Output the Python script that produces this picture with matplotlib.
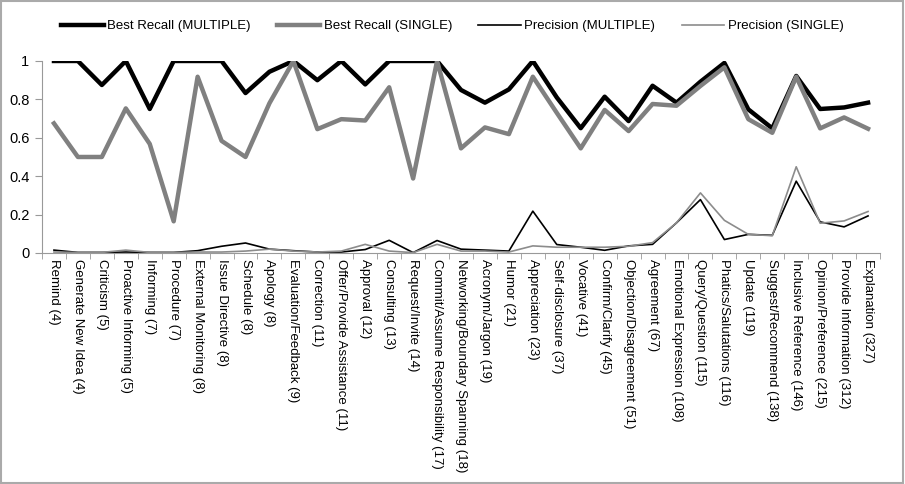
import numpy as np
import matplotlib
matplotlib.use('agg')
import matplotlib.pyplot as plt
from matplotlib.patches import Rectangle

plt.rcParams['font.family'] = ['Liberation Sans', 'DejaVu Sans']

categories = [
    'Remind (4)', 'Generate New Idea (4)', 'Criticism (5)', 'Proactive Informing (5)',
    'Informing (7)', 'Procedure (7)', 'External Monitoring (8)', 'Issue Directive (8)',
    'Schedule (8)', 'Apology (8)', 'Evaluation/Feedback (9)', 'Correction (11)',
    'Offer/Provide Assistance (11)', 'Approval (12)', 'Consulting (13)', 'Request/Invite (14)',
    'Commit/Assume Responsibility (17)', 'Networking/Boundary Spanning (18)',
    'Acronym/Jargon (19)', 'Humor (21)', 'Appreciation (23)', 'Self-disclosure (37)',
    'Vocative (41)', 'Confirm/Clarify (45)', 'Objection/Disagreement (51)', 'Agreement (67)',
    'Emotional Expression (108)', 'Query/Question (115)', 'Phatics/Salutations (116)',
    'Update (119)', 'Suggest/Recommend (138)', 'Inclusive Reference (146)',
    'Opinion/Preference (215)', 'Provide Information (312)', 'Explanation (327)',
]

recall_multiple = [1.0, 1.0, 0.875, 1.0, 0.75, 1.0, 1.0, 1.0, 0.833, 0.944, 1.0, 0.9,
                   1.0, 0.878, 1.0, 1.0, 1.0, 0.849, 0.783, 0.852, 1.0, 0.81, 0.65,
                   0.814, 0.687, 0.871, 0.783, 0.892, 0.99, 0.748, 0.649, 0.922,
                   0.75, 0.758, 0.783]
recall_single = [0.675, 0.5, 0.5, 0.753, 0.568, 0.165, 0.918, 0.584, 0.5, 0.78, 1.0,
                 0.645, 0.697, 0.69, 0.863, 0.388, 1.0, 0.545, 0.654, 0.619, 0.918,
                 0.73, 0.545, 0.745, 0.635, 0.776, 0.767, 0.87, 0.967, 0.697, 0.626,
                 0.918, 0.649, 0.706, 0.647]
precision_multiple = [0.015, 0.003, 0.003, 0.005, 0.003, 0.003, 0.012, 0.035, 0.052,
                      0.02, 0.012, 0.005, 0.005, 0.018, 0.066, 0.002, 0.065, 0.02,
                      0.015, 0.01, 0.218, 0.044, 0.03, 0.014, 0.037, 0.045, 0.157,
                      0.278, 0.07, 0.097, 0.092, 0.374, 0.162, 0.136, 0.193]
precision_single = [0.005, 0.003, 0.003, 0.015, 0.003, 0.003, 0.005, 0.005, 0.01,
                    0.02, 0.01, 0.005, 0.01, 0.045, 0.01, 0.002, 0.045, 0.01, 0.01,
                    0.005, 0.037, 0.03, 0.03, 0.03, 0.035, 0.054, 0.157, 0.313, 0.17,
                    0.097, 0.09, 0.449, 0.155, 0.167, 0.216]

fig = plt.figure(figsize=(9.05, 4.84), dpi=100)
ax = fig.add_axes([0.0464, 0.4773, 0.926, 0.3967])
x = np.arange(len(categories))

ax.plot(x, recall_multiple, color='black', lw=3.2, label='Best Recall (MULTIPLE)')
ax.plot(x, recall_single, color='#808080', lw=3.2, label='Best Recall (SINGLE)')
ax.plot(x, precision_multiple, color='black', lw=1.2, label='Precision (MULTIPLE)')
ax.plot(x, precision_single, color='#8c8c8c', lw=1.2, label='Precision (SINGLE)')

ax.set_xlim(-0.5, len(categories) - 0.5)
ax.set_ylim(0, 1)
ax.set_yticks([0, 0.2, 0.4, 0.6, 0.8, 1])
ax.set_yticklabels(['0', '0.2', '0.4', '0.6', '0.8', '1'], fontsize=10.5)
ax.set_xticks(x)
ax.set_xticklabels(categories, rotation=-90, fontsize=9.5, va='top', ha='center')
ax.set_xticks(np.arange(-0.5, len(categories), 1), minor=True)
ax.tick_params(axis='x', which='major', length=0, pad=4)
ax.tick_params(axis='x', which='minor', length=4, color='#999999')
ax.tick_params(axis='y', length=5, color='#999999', pad=4)
for s in ['top', 'right']:
    ax.spines[s].set_visible(False)
for s in ['left', 'bottom']:
    ax.spines[s].set_color('#999999')

fig.legend(loc='center', bbox_to_anchor=(0.5, 0.946), ncol=4, frameon=False,
           fontsize=9.5, handlelength=3.2, handletextpad=0.3, columnspacing=2.0)

fig.patches.append(Rectangle((0.001, 0.002), 0.997, 0.996, transform=fig.transFigure,
                             fill=False, edgecolor='#aaaaaa', lw=1.5))

fig.savefig('out.png', dpi=100)
